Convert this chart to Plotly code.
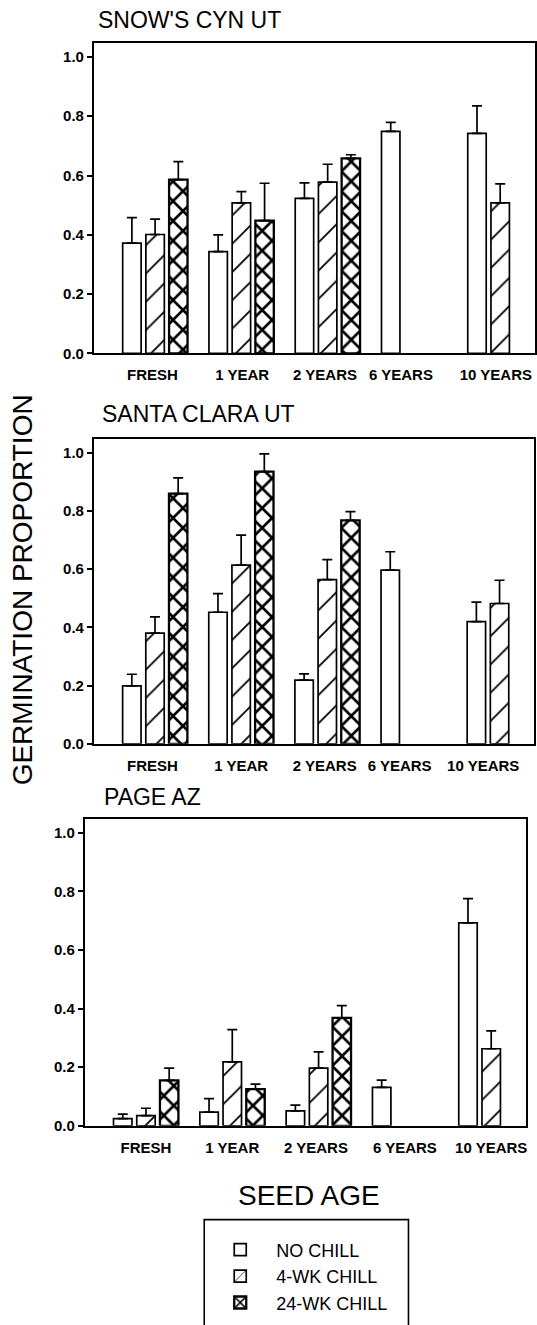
import plotly.graph_objects as go

# Seed age categories (x) and the three chill treatments
seed_age = ["FRESH", "1 YEAR", "2 YEARS", "6 YEARS", "10 YEARS"]
treatments = ["NO CHILL", "4-WK CHILL", "24-WK CHILL"]

# SNOW'S CYN UT: mean germination proportion and standard error
snow_no_chill = [0.372, 0.343, 0.523, 0.749, 0.742]
snow_no_chill_se = [0.086, 0.057, 0.052, 0.030, 0.093]
snow_4wk = [0.401, 0.508, 0.578, None, 0.508]
snow_4wk_se = [0.052, 0.038, 0.060, None, 0.064]
snow_24wk = [0.586, 0.448, 0.658, None, None]
snow_24wk_se = [0.061, 0.126, 0.012, None, None]

# SANTA CLARA UT
santa_no_chill = [0.199, 0.452, 0.219, 0.597, 0.420]
santa_no_chill_se = [0.040, 0.064, 0.021, 0.063, 0.067]
santa_4wk = [0.380, 0.614, 0.564, None, 0.482]
santa_4wk_se = [0.056, 0.103, 0.069, None, 0.080]
santa_24wk = [0.860, 0.935, 0.768, None, None]
santa_24wk_se = [0.054, 0.061, 0.030, None, None]

# PAGE AZ
page_no_chill = [0.025, 0.047, 0.051, 0.131, 0.692]
page_no_chill_se = [0.015, 0.046, 0.020, 0.025, 0.083]
page_4wk = [0.035, 0.218, 0.197, None, 0.263]
page_4wk_se = [0.025, 0.110, 0.055, None, 0.061]
page_24wk = [0.155, 0.125, 0.368, None, None]
page_24wk_se = [0.042, 0.017, 0.042, None, None]

y_ticks = [0.0, 0.2, 0.4, 0.6, 0.8, 1.0]

W, H = 537, 1325
FONT = "Liberation Sans, Arial, sans-serif"

# fill pattern per treatment: plain, single hatch, cross hatch
patterns = [
    dict(shape=""),
    dict(shape="/", size=20, solidity=0.09, fgcolor="black", fgopacity=1,
         bgcolor="white", fillmode="overlay"),
    dict(shape="x", size=14, solidity=0.34, fgcolor="black", fgopacity=1,
         bgcolor="white", fillmode="overlay"),
]

panels = [
    dict(title="SNOW'S CYN UT",
         series=[(snow_no_chill, snow_no_chill_se), (snow_4wk, snow_4wk_se), (snow_24wk, snow_24wk_se)],
         xpx=(94.2, 536.7), ypx=(43.0, 355.5), title_px=(96, 20.5),
         label_pos=[-0.03, 1.01, 1.97, 2.85, 3.95]),
    dict(title="SANTA CLARA UT",
         series=[(santa_no_chill, santa_no_chill_se), (santa_4wk, santa_4wk_se), (santa_24wk, santa_24wk_se)],
         xpx=(94.2, 536.0), ypx=(441.5, 748.3), title_px=(100, 416.5),
         label_pos=[-0.03, 1.0, 1.97, 2.84, 3.81]),
    dict(title="PAGE AZ",
         series=[(page_no_chill, page_no_chill_se), (page_4wk, page_4wk_se), (page_24wk, page_24wk_se)],
         xpx=(85.0, 527.7), ypx=(823.5, 1132.7), title_px=(102, 802),
         label_pos=[0.0, 1.0, 1.97, 3.0, 4.0]),
]

x_index = list(range(len(seed_age)))

fig = go.Figure()
layout = dict(
    width=W, height=H,
    margin=dict(l=0, r=0, t=0, b=0),
    paper_bgcolor="white", plot_bgcolor="white",
    barmode="group", bargap=0.193, bargroupgap=0.205,
    font=dict(family=FONT, color="black"),
    showlegend=True,
    annotations=[],
    shapes=[],
)

for i, p in enumerate(panels):
    n = "" if i == 0 else str(i + 1)
    for j, (vals, se) in enumerate(p["series"]):
        fig.add_trace(go.Bar(
            x=x_index, y=vals,
            name=treatments[j],
            legendgroup=treatments[j],
            showlegend=(i == 0),
            marker=dict(color="white", line=dict(color="black", width=1.7 if j < 2 else 2.3),
                        pattern=patterns[j]),
            error_y=dict(type="data", array=se, arrayminus=[0] * len(se), symmetric=False,
                         color="black", thickness=1.7, width=5),
            xaxis="x" + n, yaxis="y" + n,
        ))
    x0, x1 = p["xpx"]
    yt, yb = p["ypx"]
    layout["xaxis" + n] = dict(
        domain=[x0 / W, x1 / W], range=[-0.71, 4.40], anchor="y" + n,
        tickmode="array", tickvals=p["label_pos"], ticktext=seed_age,
        ticks="", ticklabelstandoff=7, showgrid=False, zeroline=False,
        showline=True, linecolor="black", linewidth=1.8, mirror=True,
        tickfont=dict(size=15, family=FONT, weight="bold"),
        fixedrange=True,
    )
    layout["yaxis" + n] = dict(
        domain=[1 - yb / H, 1 - yt / H], range=[0, 1.048], anchor="x" + n,
        tickmode="array", tickvals=y_ticks, tickformat=".1f",
        ticks="outside", ticklen=5, tickwidth=1.5, tickcolor="black",
        showgrid=False, zeroline=False,
        showline=True, linecolor="black", linewidth=1.8, mirror=True,
        tickfont=dict(size=15, family=FONT, weight="bold"),
        fixedrange=True,
    )
    tx, ty = p["title_px"]
    layout["annotations"].append(dict(
        text=p["title"], xref="paper", yref="paper", x=tx / W, y=1 - ty / H,
        xanchor="left", yanchor="middle", showarrow=False,
        font=dict(size=23, family=FONT, color="black"),
    ))

layout["annotations"].append(dict(
    text="GERMINATION PROPORTION", xref="paper", yref="paper",
    x=23 / W, y=1 - 593 / H, textangle=-90, xanchor="center", yanchor="middle",
    showarrow=False, font=dict(size=28, family=FONT, color="black"),
))
layout["annotations"].append(dict(
    text="SEED AGE", xref="paper", yref="paper",
    x=310 / W, y=1 - 1203 / H, xanchor="center", yanchor="middle",
    showarrow=False, font=dict(size=28, family=FONT, color="black"),
))

# legend entries without their own border; the key box runs off the bottom edge
layout["legend"] = dict(
    x=205 / W, y=1 - 1239 / H, xanchor="left", yanchor="top",
    borderwidth=0, bgcolor="rgba(0,0,0,0)",
    font=dict(size=18, family=FONT, color="black"),
    traceorder="normal", itemwidth=62, tracegroupgap=0,
)
layout["shapes"].append(dict(
    type="rect", xref="paper", yref="paper",
    x0=205 / W, x1=410 / W, y0=1 - 1340 / H, y1=1 - 1227 / H,
    line=dict(color="black", width=1.6), fillcolor="rgba(0,0,0,0)", layer="below",
))

fig.update_layout(**layout)
fig.write_html("out.html")
